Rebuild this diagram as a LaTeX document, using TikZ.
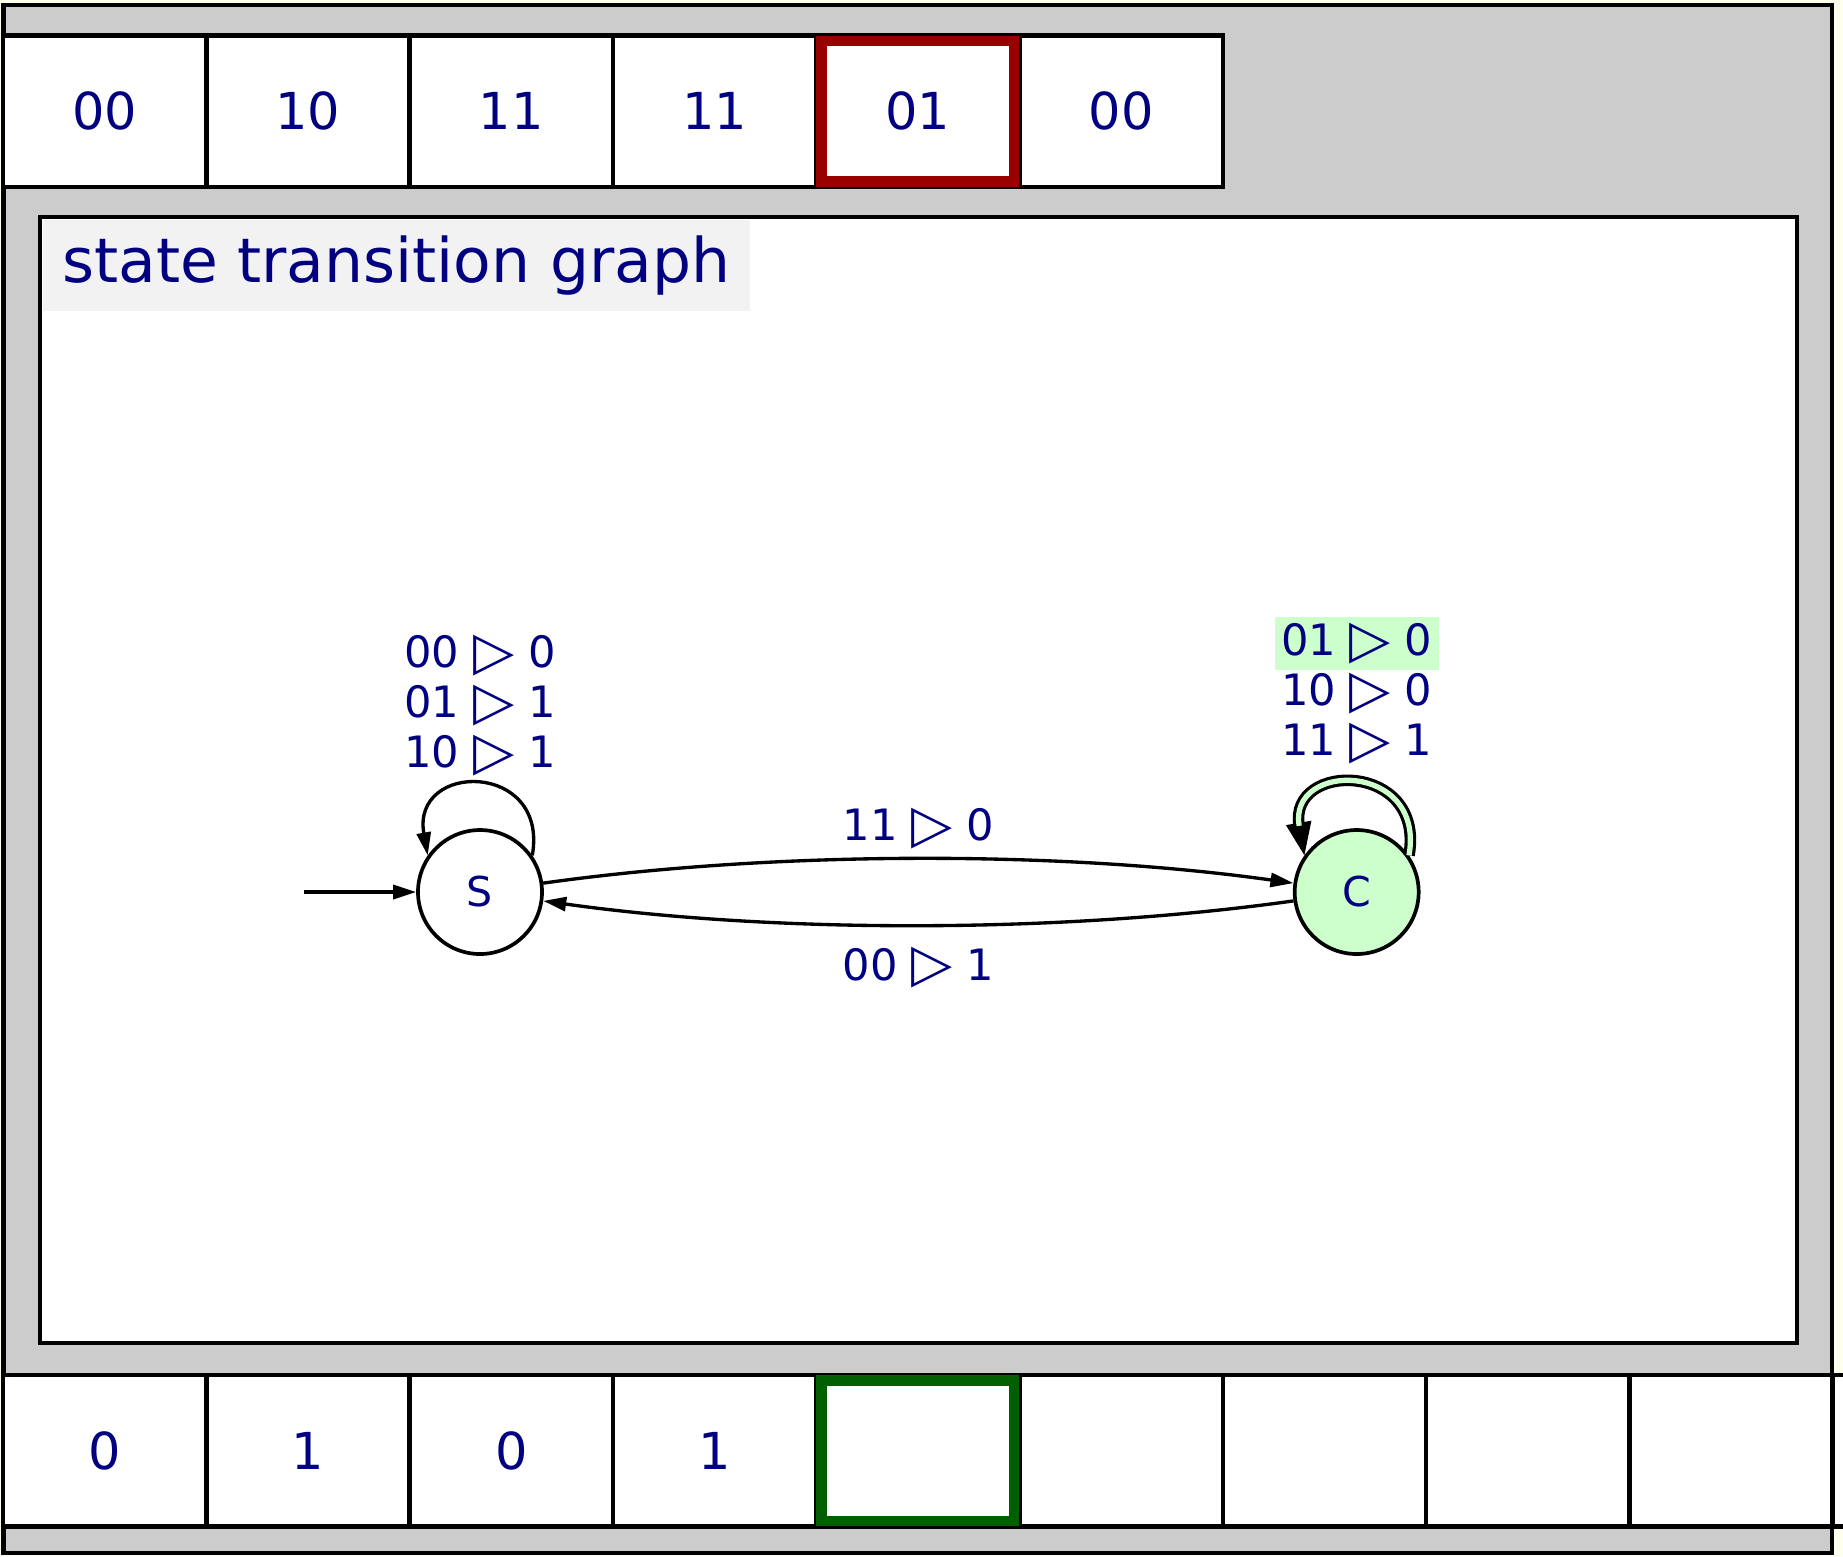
\documentclass[tikz,border=0pt]{standalone}
\usepackage{fontspec}
\setmainfont{DejaVu Sans}
\usepackage{tikz}
\usetikzlibrary{arrows.meta,positioning}
\definecolor{tnavy}{RGB}{0,0,128}
\definecolor{thead}{RGB}{153,0,0}
\definecolor{tout}{RGB}{0,96,0}
\definecolor{tmint}{RGB}{204,255,204}
\definecolor{tgray}{RGB}{204,204,204}
\definecolor{ttitle}{RGB}{242,242,242}
\definecolor{tpaper}{RGB}{255,255,238}
\setlength{\fboxsep}{1.8pt}
\newcommand{\tri}{{\fontsize{15.2}{15.2}\selectfont\raisebox{-0.03em}{▷}}}
\newcommand{\labfont}{\fontsize{12.3}{14.2}\selectfont\lineskiplimit=-5pt\relax}

\begin{document}
\begin{tikzpicture}[x=0.1mm, y=-0.1mm,
  cell/.style={draw, line width=1.3pt, fill=white, outer sep=0pt, inner sep=0pt, minimum width=20.33mm, minimum height=15.15mm, text=tnavy, font=\fontsize{14.5}{17}\selectfont},
  state/.style={circle, draw, line width=1.05pt, minimum size=12.4mm, inner sep=0pt, text=tnavy, font=\fontsize{11.7}{14}\selectfont},
  lab/.style={text=tnavy, inner sep=0pt, align=center, font=\labfont},
  trans/.style={-{Triangle[length=2.3mm,width=1.4mm]}, line width=0.95pt},
  headbox/.style={line width=3.1pt}
]
\useasboundingbox (0,0) rectangle (1843,1556);
\fill[tpaper] (0,0) rectangle (1843,1556);
\draw[fill=tgray, line width=1.2pt] (3.5,5) rectangle (1832,1553);
\node[draw, fill=white, line width=1.3pt, outer sep=0pt, minimum width=175.7mm, minimum height=112.6mm, anchor=north west] (panel) at (40,217) {};
\node[fill=ttitle, minimum width=70.7mm, minimum height=9.1mm, anchor=north west, text=tnavy, font=\fontsize{17.5}{21}\selectfont] (title) at ([shift={(2,2)}]panel.north west) {state transition graph};

\node[cell, anchor=north west] (in1) at (3,35.5) {00};
\node[cell, right=0pt of in1] (in2) {10};
\node[cell, right=0pt of in2] (in3) {11};
\node[cell, right=0pt of in3] (in4) {11};
\node[cell, right=0pt of in4] (in5) {01};
\node[cell, right=0pt of in5] (in6) {00};
\draw[headbox, thead] ([shift={(5.5,5.5)}]in5.north west) rectangle ([shift={(-5.5,-5.5)}]in5.south east);

\node[cell, anchor=north west] (out1) at (3,1375) {0};
\node[cell, right=0pt of out1] (out2) {1};
\node[cell, right=0pt of out2] (out3) {0};
\node[cell, right=0pt of out3] (out4) {1};
\node[cell, right=0pt of out4] (out5) {};
\node[cell, right=0pt of out5] (out6) {};
\node[cell, right=0pt of out6] (out7) {};
\node[cell, right=0pt of out7] (out8) {};
\node[cell, right=0pt of out8] (out9) {};
\node[cell, right=0pt of out9] (out10) {};
\draw[headbox, tout] ([shift={(5.5,5.5)}]out5.north west) rectangle ([shift={(-5.5,-5.5)}]out5.south east);

\node[state] (S) at (480,892) {S};
\node[state, fill=tmint, right=74.9mm of S] (C) {C};
\coordinate[left=11.2mm of S] (init);
\node[lab, above=5.15mm of S] (Slab) {00 \tri{} 0\\01 \tri{} 1\\10 \tri{} 1};
\node[lab, above=6.35mm of C] (Clab) {\colorbox{tmint}{01 \tri{} 0}\\10 \tri{} 0\\11 \tri{} 1};
\draw[trans] (init) -- (S);
\draw[trans] (S.35) .. controls +(80:9.6mm) and +(100:9.6mm) .. (S.145);
\draw[trans] (S) to[bend left=8, looseness=0.8] node[midway, above=0.8mm, lab] {11 \tri{} 0} (C);
\draw[trans] (C) to[bend left=8, looseness=0.8] node[midway, below=2.05mm, lab] {00 \tri{} 1} (S);
\draw[line width=0.9pt, -{Triangle[length=3.3mm,width=2.5mm]}] (C.35) .. controls +(80:9.6mm) and +(100:9.6mm) .. (C.145);
\draw[line width=0.9pt, double=tmint, double distance=1.5pt, shorten >=3mm] (C.35) .. controls +(80:9.6mm) and +(100:9.6mm) .. (C.145);
\end{tikzpicture}
\end{document}
